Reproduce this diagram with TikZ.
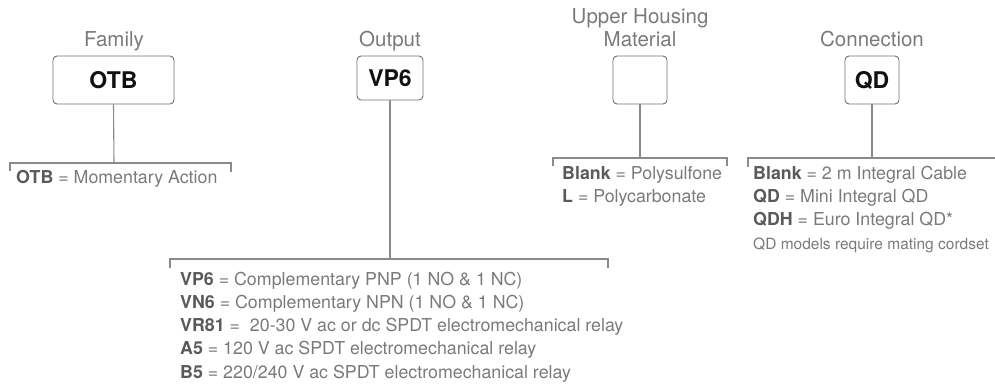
\documentclass[tikz,border=0pt]{standalone}
\usepackage{fontspec}
\setmainfont{TeX Gyre Heros}
\definecolor{txtgray}{HTML}{7A7A7A}
\definecolor{boldgray}{HTML}{5A5A5A}
\definecolor{boxgray}{HTML}{707070}
\definecolor{linegray}{HTML}{8A8A8A}
\definecolor{lblblack}{HTML}{111111}
\newcommand{\kb}[1]{{\bfseries\color{boldgray}#1}}
\begin{document}
\begin{tikzpicture}[x=1pt,y=-1pt,
  box/.style={draw=boxgray, line width=0.9pt, rounded corners=4pt, inner sep=0pt},
  ttl/.style={anchor=base, text=txtgray, font=\fontsize{20.5}{22}\selectfont, inner sep=0pt},
  item/.style={anchor=base west, text=txtgray, font=\fontsize{17.8}{20}\selectfont, inner sep=0pt},
  note/.style={anchor=base west, text=txtgray, font=\fontsize{15.5}{18}\selectfont, inner sep=0pt},
  lbl/.style={font=\fontsize{23}{25}\selectfont\bfseries, text=lblblack},
  conn/.style={draw=linegray, line width=1.1pt}]
\useasboundingbox (0,0) rectangle (995,387);

% titles
\node[ttl] (t1) at (114,47) {Family};
\node[ttl] (t2) at (390,47) {Output};
\node[ttl] (t3a) at (640,23.5) {Upper Housing};
\node[ttl] (t3b) at (640,47) {Material};
\node[ttl] (t4) at (872,47) {Connection};

% boxes
\node[box, lbl, minimum width=121pt, minimum height=48pt] (b1) at (113.5,80) {OTB};
\node[box, lbl, minimum width=66pt, minimum height=44pt] (b2) at (390,78) {VP6};
\node[box, lbl, minimum width=54pt, minimum height=48pt] (b3) at (640,80) {};
\node[box, lbl, minimum width=54pt, minimum height=48pt] (b4) at (872,80) {QD};

% bracket coordinates
\coordinate (k1) at (114,163);
\coordinate (k1a) at (10,171); \coordinate (k1b) at (10,163);
\coordinate (k1c) at (231,163); \coordinate (k1d) at (231,172);
\coordinate (k2) at (390,259);
\coordinate (k2a) at (170,268); \coordinate (k2b) at (170,259);
\coordinate (k2c) at (608,259); \coordinate (k2d) at (608,268);
\coordinate (k3) at (640,158);
\coordinate (k3a) at (553,166); \coordinate (k3b) at (553,158);
\coordinate (k3c) at (727,158); \coordinate (k3d) at (727,166);
\coordinate (k4) at (872,158);
\coordinate (k4a) at (748,167); \coordinate (k4b) at (748,158);
\coordinate (k4c) at (995,158);

% connectors
\draw[conn] (b1.south) -- (k1);
\draw[conn] (k1a) -- (k1b) -- (k1c) -- (k1d);
\draw[conn] (b2.south) -- (k2);
\draw[conn] (k2a) -- (k2b) -- (k2c) -- (k2d);
\draw[conn] (b3.south) -- (k3);
\draw[conn] (k3a) -- (k3b) -- (k3c) -- (k3d);
\draw[conn] (b4.south) -- (k4);
\draw[conn] (k4a) -- (k4b) -- (k4c);

% items
\node[item] (i1) at (16,184) {\kb{OTB} = Momentary Action};

\node[item] (i2a) at (180,285) {\kb{VP6} = Complementary PNP (1 NO \& 1 NC)};
\node[item] (i2b) at (180,308.3) {\kb{VN6} = Complementary NPN (1 NO \& 1 NC)};
\node[item] (i2c) at (180,331.6) {\kb{VR81} = \ 20-30 V ac or dc SPDT electromechanical relay};
\node[item] (i2d) at (180,354.9) {\kb{A5} = 120 V ac SPDT electromechanical relay};
\node[item] (i2e) at (180,378.2) {\kb{B5} = 220/240 V ac SPDT electromechanical relay};

\node[item] (i3a) at (562,179.5) {\kb{Blank} = Polysulfone};
\node[item] (i3b) at (562,202.5) {\kb{L} = Polycarbonate};

\node[item] (i4a) at (753,179.5) {\kb{Blank} = 2 m Integral Cable};
\node[item] (i4b) at (753,202.3) {\kb{QD} = Mini Integral QD};
\node[item] (i4c) at (753,225.1) {\kb{QDH} = Euro Integral QD*};
\node[note] (i4d) at (753,250) {QD models require mating cordset};
\end{tikzpicture}
\end{document}
